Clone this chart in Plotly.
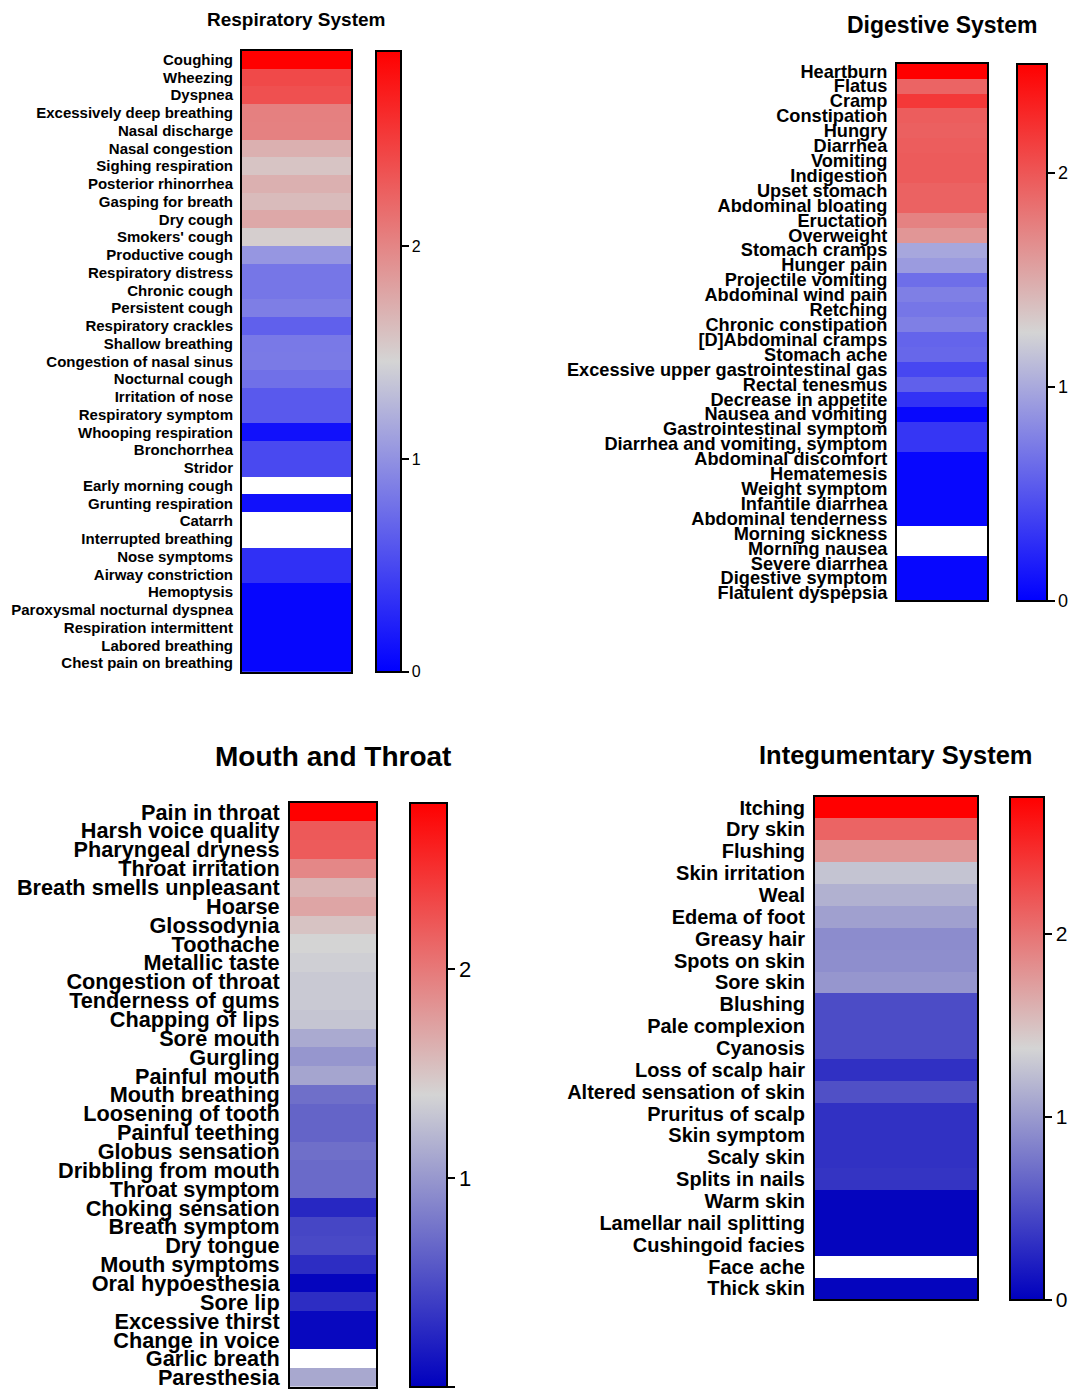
import plotly.graph_objects as go

# ---------------- data ----------------
resp_labels = [
    "Coughing", "Wheezing", "Dyspnea", "Excessively deep breathing", "Nasal discharge",
    "Nasal congestion", "Sighing respiration", "Posterior rhinorrhea", "Gasping for breath",
    "Dry cough", "Smokers' cough", "Productive cough", "Respiratory distress", "Chronic cough",
    "Persistent cough", "Respiratory crackles", "Shallow breathing", "Congestion of nasal sinus",
    "Nocturnal cough", "Irritation of nose", "Respiratory symptom", "Whooping respiration",
    "Bronchorrhea", "Stridor", "Early morning cough", "Grunting respiration", "Catarrh",
    "Interrupted breathing", "Nose symptoms", "Airway constriction", "Hemoptysis",
    "Paroxysmal nocturnal dyspnea", "Respiration intermittent", "Labored breathing",
    "Chest pain on breathing",
]
resp_values = [
    2.92, 2.42, 2.37, 2.04, 2.03, 1.71, 1.57, 1.71, 1.63, 1.76, 1.50, 1.03, 0.81, 0.81,
    0.87, 0.66, 0.83, 0.84, 0.77, 0.61, 0.61, 0.12, 0.50, 0.50, None, 0.12, None, None,
    0.33, 0.33, 0.04, 0.04, 0.04, 0.04, 0.04,
]

dig_labels = [
    "Heartburn", "Flatus", "Cramp", "Constipation", "Hungry", "Diarrhea", "Vomiting",
    "Indigestion", "Upset stomach", "Abdominal bloating", "Eructation", "Overweight",
    "Stomach cramps", "Hunger pain", "Projectile vomiting", "Abdominal wind pain", "Retching",
    "Chronic constipation", "[D]Abdominal cramps", "Stomach ache",
    "Excessive upper gastrointestinal gas", "Rectal tenesmus", "Decrease in appetite",
    "Nausea and vomiting", "Gastrointestinal symptom", "Diarrhea and vomiting, symptom",
    "Abdominal discomfort", "Hematemesis", "Weight symptom", "Infantile diarrhea",
    "Abdominal tenderness", "Morning sickness", "Morning nausea", "Severe diarrhea",
    "Digestive symptom", "Flatulent dyspepsia",
]
dig_values = [
    2.51, 1.92, 2.18, 1.96, 1.94, 1.96, 1.97, 1.97, 1.93, 1.93, 1.74, 1.62, 0.99, 0.92,
    0.65, 0.75, 0.70, 0.75, 0.59, 0.61, 0.42, 0.57, 0.30, 0.05, 0.32, 0.32, 0.04, 0.04,
    0.04, 0.04, 0.04, None, None, 0.04, 0.04, 0.04,
]

mouth_labels = [
    "Pain in throat", "Harsh voice quality", "Pharyngeal dryness", "Throat irritation",
    "Breath smells unpleasant", "Hoarse", "Glossodynia", "Toothache", "Metallic taste",
    "Congestion of throat", "Tenderness of gums", "Chapping of lips", "Sore mouth", "Gurgling",
    "Painful mouth", "Mouth breathing", "Loosening of tooth", "Painful teething",
    "Globus sensation", "Dribbling from mouth", "Throat symptom", "Choking sensation",
    "Breath symptom", "Dry tongue", "Mouth symptoms", "Oral hypoesthesia", "Sore lip",
    "Excessive thirst", "Change in voice", "Garlic breath", "Paresthesia",
]
mouth_values = [
    2.80, 2.21, 2.20, 1.91, 1.61, 1.71, 1.51, 1.40, 1.37, 1.33, 1.33, 1.30, 1.12, 0.99,
    1.09, 0.73, 0.66, 0.66, 0.73, 0.70, 0.70, 0.26, 0.46, 0.48, 0.30, 0.03, 0.30, 0.05,
    0.05, None, 1.11,
]

integ_labels = [
    "Itching", "Dry skin", "Flushing", "Skin irritation", "Weal", "Edema of foot",
    "Greasy hair", "Spots on skin", "Sore skin", "Blushing", "Pale complexion", "Cyanosis",
    "Loss of scalp hair", "Altered sensation of skin", "Pruritus of scalp", "Skin symptom",
    "Scaly skin", "Splits in nails", "Warm skin", "Lamellar nail splitting",
    "Cushingoid facies", "Face ache", "Thick skin",
]
integ_values = [
    2.75, 2.10, 1.77, 1.27, 1.15, 1.04, 0.91, 0.92, 0.97, 0.49, 0.49, 0.49, 0.31, 0.52,
    0.32, 0.32, 0.32, 0.34, 0.03, 0.03, 0.03, None, 0.03,
]

cbar_ticks = [0, 1, 2]

# ---------------- styling ----------------
W, H = 1075, 1397
FONT = "Liberation Sans, Arial, Helvetica, sans-serif"
GRAY = "rgb(212,212,212)"
RED = "rgb(255,0,0)"

panels = [
    # heatmap box = (x0, x1, y0, y1) in px, colorbar = (x, thickness) in px
    dict(title="Respiratory System", labels=resp_labels, values=resp_values,
         low="rgb(0,0,255)", box=(242, 351, 48, 672), cb=(376, 25),
         lsize=15, tsize=19, ty=17, ksize=16),
    dict(title="Digestive System", labels=dig_labels, values=dig_values,
         low="rgb(0,0,255)", box=(897, 987, 61, 600), cb=(1017, 30),
         lsize=18.2, tsize=23, ty=22, ksize=18),
    dict(title="Mouth and Throat", labels=mouth_labels, values=mouth_values,
         low="rgb(0,0,190)", box=(290, 376, 803, 1390), cb=(410, 37),
         lsize=21.7, tsize=28, ty=757, ksize=22),
    dict(title="Integumentary System", labels=integ_labels, values=integ_values,
         low="rgb(0,0,190)", box=(815, 977, 797, 1302), cb=(1010, 34),
         lsize=20, tsize=25.5, ty=755, ksize=21),
]

fig = go.Figure()
layout = dict(
    width=W, height=H,
    margin=dict(l=0, r=0, t=0, b=0),
    paper_bgcolor="white", plot_bgcolor="white",
    showlegend=False,
)
annotations = []

for i, p in enumerate(panels, start=1):
    sfx = "" if i == 1 else str(i)
    x0, x1, y0, y1 = p["box"]
    cbx, cbt = p["cb"]
    vmax = max(v for v in p["values"] if v is not None)
    z = [[v] for v in p["values"]]

    fig.add_trace(go.Heatmap(
        z=z, x=["value"], y=p["labels"],
        xaxis="x" + sfx, yaxis="y" + sfx,
        coloraxis="coloraxis" + sfx,
        hoverongaps=False,
    ))

    layout["xaxis" + sfx] = dict(
        domain=[x0 / W, x1 / W], anchor="y" + sfx,
        showticklabels=False, ticks="", showgrid=False, zeroline=False,
        showline=True, mirror=True, linecolor="black", linewidth=2,
    )
    layout["yaxis" + sfx] = dict(
        domain=[1 - y1 / H, 1 - y0 / H], anchor="x" + sfx,
        autorange="reversed", type="category",
        tickmode="array", tickvals=p["labels"], ticktext=p["labels"],
        ticks="", showgrid=False, zeroline=False,
        showline=True, mirror=True, linecolor="black", linewidth=2,
        tickfont=dict(family=FONT, size=p["lsize"], color="black", weight="bold"),
        ticklabelstandoff=4,
    )
    layout["coloraxis" + sfx] = dict(
        cmin=0, cmax=vmax,
        colorscale=[[0, p["low"]], [0.5, GRAY], [1, RED]],
        colorbar=dict(
            x=cbx / W, xanchor="left", xpad=0,
            y=1 - y0 / H, yanchor="top", ypad=0,
            len=(y1 - y0) / H, lenmode="fraction",
            thickness=cbt, thicknessmode="pixels",
            outlinewidth=2, outlinecolor="black",
            tickvals=cbar_ticks, ticks="outside", ticklen=7, tickwidth=1.5,
            tickcolor="black",
            tickfont=dict(family=FONT, size=p["ksize"], color="black"),
        ),
    )
    annotations.append(dict(
        text="<b>%s</b>" % p["title"], xref="paper", yref="paper",
        x=((x0 + x1) / 2) / W, y=1 - p["ty"] / H,
        xanchor="center", yanchor="middle", showarrow=False,
        font=dict(family=FONT, size=p["tsize"], color="black"),
    ))

layout["annotations"] = annotations
fig.update_layout(**layout)
fig.write_html("out.html")
